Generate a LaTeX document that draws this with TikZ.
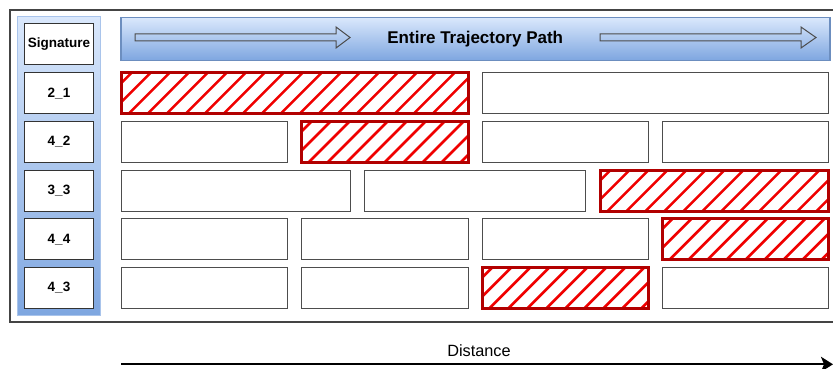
\documentclass[tikz,border=0pt]{standalone}
\usepackage{fontspec}
\setmainfont{Liberation Sans}
\usetikzlibrary{arrows.meta,calc}
\definecolor{hdrtop}{HTML}{DAE8FC}
\definecolor{hdrbot}{HTML}{7EA6E0}
\definecolor{hdrline}{HTML}{6C8EBF}
\definecolor{colline}{HTML}{A9C4EB}
\definecolor{hatchred}{HTML}{F00000}
\definecolor{boxred}{HTML}{B20000}
\definecolor{cellline}{HTML}{4D4D4D}
\definecolor{frameline}{HTML}{444444}
\begin{document}
\begin{tikzpicture}[x=1pt,y=-1pt,
  cell/.style={draw=cellline, line width=1pt, fill=white, anchor=north west,
    inner sep=0pt, outer sep=0pt, minimum height=41pt},
  hatched/.style={cell, draw=boxred, line width=3pt, path picture={
    \foreach \k in {0,...,26}{
      \draw[hatchred, line width=2.6pt]
        ($(path picture bounding box.north west)+(\k*19pt-4pt,5pt)$) -- ++(-60pt,-60pt);}
    }},
  siglabel/.style={draw=black!80, line width=1pt, fill=white, anchor=north west,
    inner sep=0pt, outer sep=0pt, minimum width=69pt, minimum height=41pt,
    font=\fontsize{13.5}{16}\selectfont\bfseries},
  header/.style={draw=hdrline, line width=1.5pt, top color=hdrtop, bottom color=hdrbot,
    anchor=north west, inner sep=0pt, minimum width=709pt, minimum height=43pt,
    font=\fontsize{17}{20}\selectfont\bfseries},
  sigcol/.style={draw=colline, line width=1pt, top color=hdrtop, bottom color=hdrbot,
    anchor=north west, inner sep=0pt, minimum width=83pt, minimum height=299pt},
  hdrarrow/.style={draw=black!70, line width=1pt},
  framestyle/.style={draw=frameline, line width=2pt},
  axisarrow/.style={draw=black, line width=2pt, -{Stealth[length=12pt,width=15pt,inset=3pt]}},
  axislabel/.style={font=\fontsize{16.3}{19}\selectfont}
]
\useasboundingbox (0,0) rectangle (833,369);
\clip (0,0) rectangle (833,369);

% outer frame
\draw[framestyle] (10,10) rectangle (860,322);

% signature column
\node[sigcol] (col) at (17,16) {};
\node[siglabel] (sig) at (24.5,23.5) {Signature};
\node[siglabel] (s21) at (24.5,72.9) {2\_1};
\node[siglabel] (s42) at (24.5,121.5) {4\_2};
\node[siglabel] (s33) at (24.5,170.1) {3\_3};
\node[siglabel] (s44) at (24.5,218.7) {4\_4};
\node[siglabel] (s43) at (24.5,267.3) {4\_3};

% header
\node[header] (hdr) at (120,16.7) {Entire Trajectory Path};
\draw[hdrarrow] (135,34) -- (336,34) -- (336,27) -- (350,37.5) -- (336,48) -- (336,41) -- (135,41) -- cycle;
\draw[hdrarrow] (600,34) -- (801,34) -- (801,27) -- (816,37.5) -- (801,48) -- (801,41) -- (600,41) -- cycle;

% row 2_1
\node[hatched, minimum width=347pt] (r1a) at (121.5,72.9) {};
\node[cell, minimum width=346pt] (r1b) at (482.5,72.9) {};
% row 4_2
\node[cell, minimum width=166pt] (r2a) at (121.5,121.5) {};
\node[hatched, minimum width=167pt] (r2b) at (301.5,121.5) {};
\node[cell, minimum width=166pt] (r2c) at (482.5,121.5) {};
\node[cell, minimum width=166pt] (r2d) at (662.5,121.5) {};
% row 3_3
\node[cell, minimum width=229pt] (r3a) at (121.5,170.1) {};
\node[cell, minimum width=221pt] (r3b) at (364.5,170.1) {};
\node[hatched, minimum width=228pt] (r3c) at (600.5,170.1) {};
% row 4_4
\node[cell, minimum width=166pt] (r4a) at (121.5,218.7) {};
\node[cell, minimum width=167pt] (r4b) at (301.5,218.7) {};
\node[cell, minimum width=166pt] (r4c) at (482.5,218.7) {};
\node[hatched, minimum width=166pt] (r4d) at (662.5,218.7) {};
% row 4_3
\node[cell, minimum width=166pt] (r5a) at (121.5,267.3) {};
\node[cell, minimum width=167pt] (r5b) at (301.5,267.3) {};
\node[hatched, minimum width=166pt] (r5c) at (482.5,267.3) {};
\node[cell, minimum width=166pt] (r5d) at (662.5,267.3) {};

% distance axis
\node[axislabel] (dist) at (479,350.5) {Distance};
\coordinate (dstart) at (121,364.3);
\coordinate (dend) at (833,364.3);
\draw[axisarrow] (dstart) -- (dend);
\end{tikzpicture}
\end{document}
